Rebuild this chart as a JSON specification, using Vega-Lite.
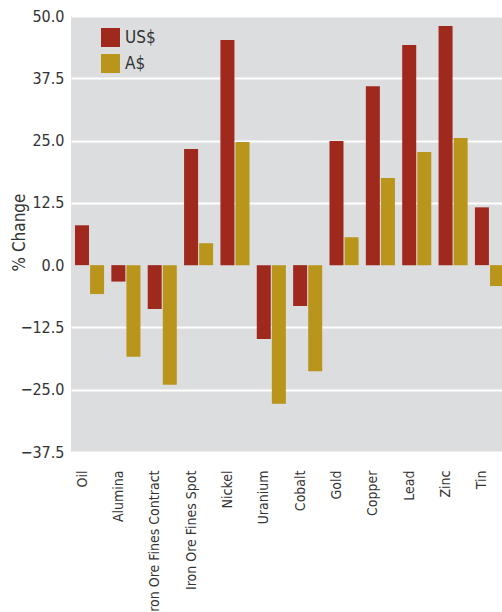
{
  "$schema": "https://vega.github.io/schema/vega-lite/v6.json",
  "autosize": {"type": "none"},
  "padding": {"left": 71, "top": 16, "right": 0, "bottom": 160},
  "width": 437,
  "height": 436,
  "background": "white",
  "config": {
    "view": {"fill": "#DCDDDF", "stroke": null},
    "font": "'DejaVu Sans Condensed', 'Liberation Sans', sans-serif"
  },
  "data": {
    "values": [
      {"commodity": "Oil", "currency": "US$", "change": 8.0},
      {"commodity": "Oil", "currency": "A$", "change": -5.8},
      {"commodity": "Alumina", "currency": "US$", "change": -3.3},
      {"commodity": "Alumina", "currency": "A$", "change": -18.4},
      {"commodity": "Iron Ore Fines Contract", "currency": "US$", "change": -8.8},
      {"commodity": "Iron Ore Fines Contract", "currency": "A$", "change": -24.0},
      {"commodity": "Iron Ore Fines Spot", "currency": "US$", "change": 23.3},
      {"commodity": "Iron Ore Fines Spot", "currency": "A$", "change": 4.4},
      {"commodity": "Nickel", "currency": "US$", "change": 45.2},
      {"commodity": "Nickel", "currency": "A$", "change": 24.7},
      {"commodity": "Uranium", "currency": "US$", "change": -14.8},
      {"commodity": "Uranium", "currency": "A$", "change": -27.8},
      {"commodity": "Cobalt", "currency": "US$", "change": -8.2},
      {"commodity": "Cobalt", "currency": "A$", "change": -21.3},
      {"commodity": "Gold", "currency": "US$", "change": 24.9},
      {"commodity": "Gold", "currency": "A$", "change": 5.6},
      {"commodity": "Copper", "currency": "US$", "change": 35.9},
      {"commodity": "Copper", "currency": "A$", "change": 17.5},
      {"commodity": "Lead", "currency": "US$", "change": 44.2},
      {"commodity": "Lead", "currency": "A$", "change": 22.7},
      {"commodity": "Zinc", "currency": "US$", "change": 48.0},
      {"commodity": "Zinc", "currency": "A$", "change": 25.5},
      {"commodity": "Tin", "currency": "US$", "change": 11.6},
      {"commodity": "Tin", "currency": "A$", "change": -4.2}
    ]
  },
  "mark": {"type": "bar"},
  "encoding": {
    "x": {
      "field": "commodity",
      "type": "nominal",
      "sort": null,
      "scale": {"paddingInner": 0.2, "paddingOuter": 0.11},
      "axis": {
        "title": null,
        "labelAngle": -90,
        "labelAlign": "right",
        "labelBaseline": "middle",
        "labelFontSize": 14,
        "labelColor": "#333333",
        "labelPadding": 18,
        "labelOffset": -7,
        "labelLimit": 300,
        "ticks": false,
        "domain": false,
        "grid": false
      }
    },
    "xOffset": {
      "field": "currency",
      "type": "nominal",
      "sort": ["US$", "A$"],
      "scale": {"paddingInner": 0.07}
    },
    "y": {
      "field": "change",
      "type": "quantitative",
      "scale": {"domain": [-37.5, 50], "nice": false, "zero": false},
      "axis": {
        "title": "% Change",
        "titleFontSize": 17,
        "titleFontWeight": "normal",
        "titleColor": "#333333",
        "titleAngle": -90,
        "titleX": -47,
        "titleY": 216,
        "titleAlign": "center",
        "titleBaseline": "alphabetic",
        "values": [-37.5, -25, -12.5, 0, 12.5, 25, 37.5, 50],
        "format": ".1f",
        "labelFontSize": 16,
        "labelColor": "#333333",
        "labelPadding": 7,
        "ticks": false,
        "domain": false,
        "gridColor": {"condition": {"test": "datum.value === 0", "value": "transparent"}, "value": "white"},
        "gridWidth": 2
      }
    },
    "color": {
      "field": "currency",
      "type": "nominal",
      "scale": {"domain": ["US$", "A$"], "range": ["#A0291E", "#B9951B"]},
      "legend": {
        "title": null,
        "orient": "none",
        "legendX": 30,
        "legendY": 12,
        "symbolType": "square",
        "symbolSize": 361,
        "symbolStrokeWidth": 0,
        "symbolOpacity": 1,
        "labelFontSize": 17,
        "labelColor": "#333333",
        "labelOffset": 5,
        "rowPadding": 7
      }
    }
  }
}
